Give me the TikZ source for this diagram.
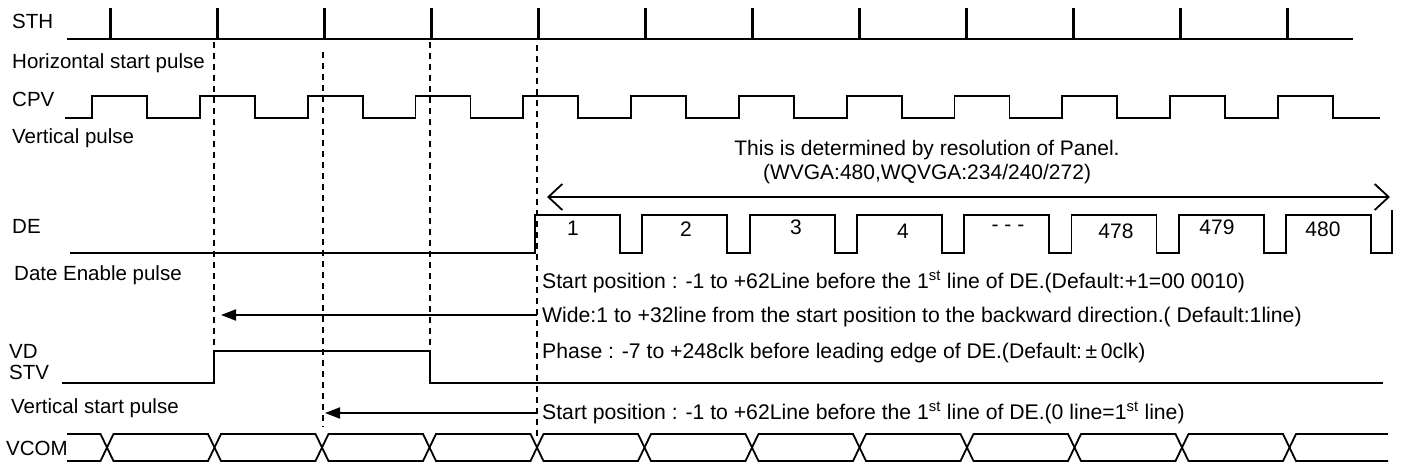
\documentclass[tikz,border=0pt]{standalone}
\usepackage{fontspec}
\setmainfont{Liberation Sans}
\usetikzlibrary{arrows.meta}

\begin{document}
\begin{tikzpicture}[x=1pt,y=-1pt,
  lbl/.style={anchor=base west,inner sep=0pt,font=\fontsize{20.5}{24}\selectfont},
  note/.style={anchor=base west,inner sep=0pt,font=\fontsize{21.2}{25}\selectfont},
  num/.style={anchor=base,inner sep=0pt,font=\fontsize{21}{25}\selectfont},
  wave/.style={line width=1.8pt,line join=miter},
  tick/.style={line width=3pt},
  guide/.style={line width=1.4pt,dash pattern=on 6pt off 5pt},
  back/.style={line width=1.8pt,-{Triangle[length=15pt,width=11pt]}},
  span/.style={line width=1.8pt,{Straight Barb[length=14pt,width=26pt]}-{Straight Barb[length=14pt,width=26pt]}}]
  \useasboundingbox (0,0) rectangle (1403,471);

  % signal names
  \node[lbl] (sth) at (12,28) {STH};
  \node[lbl] (sthtxt) at (12,68) {Horizontal start pulse};
  \node[lbl] (cpv) at (12,106) {CPV};
  \node[lbl] (cpvtxt) at (12,143) {Vertical pulse};
  \node[lbl] (de) at (12,233) {DE};
  \node[lbl] (detxt) at (14,280) {Date Enable pulse};
  \node[lbl] (vd) at (9,358) {VD};
  \node[lbl] (stv) at (9,379) {STV};
  \node[lbl] (stvtxt) at (11,413) {Vertical start pulse};
  \node[lbl] (vcom) at (6,455) {VCOM};

  % guide lines
  \draw[guide] (214,42) -- (214,351);
  \draw[guide] (323,52) -- (323,427);
  \draw[guide] (430,42) -- (430,351);
  \draw[guide] (537,45) -- (537,436);

  % STH
  \draw[wave] (67,39) -- (1353,39);
  \foreach \k in {0,...,11}
    \draw[tick] (110+107*\k,39) -- (110+107*\k,8);

  % CPV
  \draw[wave] (65,118) foreach \k in {0,...,11} {
    -- (92+107.8*\k,118) -- ++(0,-22) -- ++(55,0) -- ++(0,22) } -- (1380,118);

  % DE
  \draw[wave] (70,253) foreach \k in {0,...,7} {
    -- (535+107.3*\k,253) -- ++(0,-38) -- ++(85,0) -- ++(0,38) } -- (1392,253) -- (1392,210);
  \node[num] (l1) at (573,235) {1};
  \node[num] (l2) at (686,236) {2};
  \node[num] (l3) at (796,234) {3};
  \node[num] (l4) at (903,238) {4};
  \node[num] (ldots) at (1008,231) {- - -};
  \node[num] (l478) at (1116,238) {478};
  \node[num] (l479) at (1217,234) {479};
  \node[num] (l480) at (1323,236) {480};

  % VD / STV
  \draw[wave] (62,383) -- (214,383) -- (214,351) -- (430,351) -- (430,383) -- (1383,383);

  % VCOM
  \draw[wave] (67,434) foreach \k [evaluate=\k as \ya using {434+27*mod(\k,2)},
      evaluate=\k as \yb using {461-27*mod(\k,2)}] in {0,...,11} {
    -- (100.5+107.5*\k,\ya) -- (113.5+107.5*\k,\yb) } -- (1388,434);
  \draw[wave] (67,461) foreach \k [evaluate=\k as \ya using {461-27*mod(\k,2)},
      evaluate=\k as \yb using {434+27*mod(\k,2)}] in {0,...,11} {
    -- (100.5+107.5*\k,\ya) -- (113.5+107.5*\k,\yb) } -- (1388,461);

  % notes
  \node[num] (res1) at (927,155) {This is determined by resolution of Panel.};
  \node[num] (res2) at (927,179) {(WVGA:480,WQVGA:234/240/272)};
  \coordinate (spanl) at (547,197);
  \coordinate (spanr) at (1390,197);
  \draw[span] (spanl) -- (spanr);

  \node[note] (start1) at (542,288) {Start position : -1 to +62Line before the 1\textsuperscript{st} line of DE.(Default:+1=00 0010)};
  \coordinate (wfrom) at (537,315);
  \coordinate (wto) at (221,315);
  \draw[back] (wfrom) -- (wto);
  \node[note] (wide) at (542,322) {Wide:1 to +32line from the start position to the backward direction.( Default:1line)};
  \node[note] (phase) at (542,358) {Phase : -7 to +248clk before leading edge of DE.(Default:\,±\,0clk)};
  \coordinate (sfrom) at (537,413);
  \coordinate (sto) at (325,413);
  \draw[back] (sfrom) -- (sto);
  \node[note] (start2) at (542,419) {Start position : -1 to +62Line before the 1\textsuperscript{st} line of DE.(0 line=1\textsuperscript{st} line)};
\end{tikzpicture}
\end{document}
